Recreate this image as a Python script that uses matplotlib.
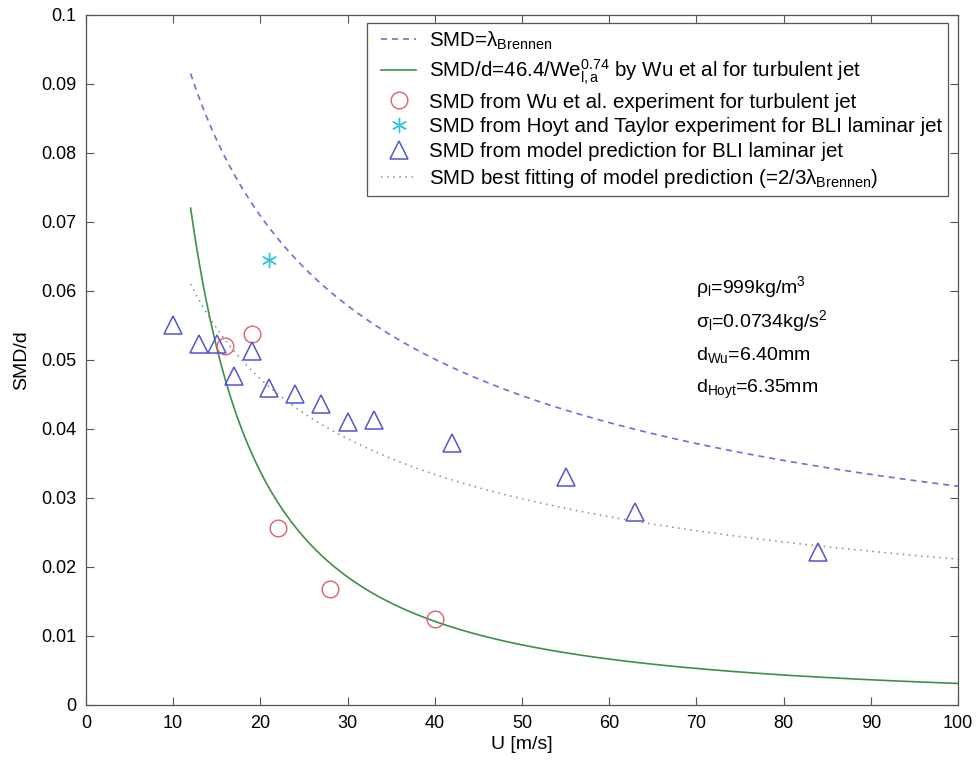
import numpy as np
import matplotlib
matplotlib.use("Agg")
import matplotlib.pyplot as plt
from matplotlib.lines import Line2D
from matplotlib.legend_handler import HandlerLine2D

plt.rcParams["font.family"] = ["Liberation Sans", "DejaVu Sans"]
plt.rcParams["mathtext.fontset"] = "custom"
plt.rcParams["mathtext.rm"] = "Liberation Sans"
plt.rcParams["mathtext.it"] = "Liberation Sans"
plt.rcParams["mathtext.sf"] = "Liberation Sans"

# Model prediction for BLI laminar jet (triangles)
u_model = [10, 13, 15, 17, 19, 21, 24, 27, 30, 33, 42, 55, 63, 84]
smd_model = [0.0550, 0.0523, 0.0523, 0.0477, 0.0513, 0.0460, 0.0450,
             0.0436, 0.0410, 0.0413, 0.0380, 0.0330, 0.0280, 0.0221]

# Wu et al. experiment, turbulent jet (circles)
u_wu = [16, 19, 22, 28, 40]
smd_wu = [0.0520, 0.0538, 0.0257, 0.0168, 0.0124]

# Hoyt and Taylor experiment, BLI laminar jet (star)
u_hoyt = [21]
smd_hoyt = [0.0645]

# Curve coefficients: SMD/d = C * U**(-n)
brennen_coef = 0.317
brennen_exp = 0.5
wu_coef = 2.848
wu_exp = 2 * 0.74
fit_ratio = 2.0 / 3.0

u_curve = np.linspace(12, 100, 400)
smd_brennen = brennen_coef * u_curve ** (-brennen_exp)
smd_wu_fit = wu_coef * u_curve ** (-wu_exp)
smd_best = fit_ratio * smd_brennen

fig = plt.figure(figsize=(9.77, 7.6), dpi=100)
ax = fig.add_axes([0.088, 0.0724, 0.8925, 0.9079])

fs = 13
ax.plot(u_curve, smd_brennen, color="#6d6ddc", lw=1.2, ls=(0, (3.6, 3)),
        label=r"SMD=$\lambda_{\rm Brennen}$")
ax.plot(u_curve, smd_wu_fit, color="#3f8f4a", lw=1.2,
        label=r"SMD/d=46.4/We$_{\rm l,a}^{0.74}$ by Wu et al for turbulent jet")
ax.plot(u_wu, smd_wu, ls="none", marker="o", ms=12, mfc="none",
        mec="#e0606e", mew=1.0,
        label="SMD from Wu et al. experiment for turbulent jet")
ax.plot(u_hoyt, smd_hoyt, ls="none", marker=(6, 2, 0), ms=11,
        mec="#35c4d6", mew=1.0,
        label="SMD from Hoyt and Taylor experiment for BLI laminar jet")
ax.plot(u_model, smd_model, ls="none", marker="^", ms=13, mfc="none",
        mec="#5454d2", mew=1.1,
        label="SMD from model prediction for BLI laminar jet")
ax.plot(u_curve, smd_best, color="#8a8a8a", lw=1.1, ls=(0, (1, 3)),
        label=r"SMD best fitting of model prediction (=2/3$\lambda_{\rm Brennen}$)")

ax.set_xlim(0, 100)
ax.set_ylim(0, 0.1)
ax.set_xticks(np.arange(0, 101, 10))
ax.set_yticks(np.arange(0, 0.1001, 0.01))
ax.set_yticklabels(["0"] + [f"{v:.2f}" for v in np.arange(0.01, 0.0951, 0.01)] + ["0.1"])
ax.tick_params(direction="in", top=True, right=True, labelsize=fs,
               length=6, width=0.8, color="#555555", pad=7)
for sp in ax.spines.values():
    sp.set_color("#555555")
    sp.set_linewidth(0.9)

ax.set_xlabel("U [m/s]", fontsize=14, labelpad=3)
ax.set_ylabel("SMD/d", fontsize=14, labelpad=8)

leg_fs = 14.8
leg = ax.legend(loc="upper right", bbox_to_anchor=(0.9885, 0.988),
                borderaxespad=0, fontsize=leg_fs, handlelength=2.1,
                handletextpad=0.6, labelspacing=0.28, borderpad=0.3,
                fancybox=False, framealpha=1,
                handler_map={Line2D: HandlerLine2D(xpad=0.4)})
leg.get_frame().set_edgecolor("#555555")
leg.get_frame().set_linewidth(0.9)

ann = [r"$\rho_{\rm l}$=999kg/m$^3$",
       r"$\sigma_{\rm l}$=0.0734kg/s$^2$",
       r"d$_{\rm Wu}$=6.40mm",
       r"d$_{\rm Hoyt}$=6.35mm"]
for i, t in enumerate(ann):
    ax.text(70, 0.0605 - i * 0.0049, t, fontsize=14, va="center", ha="left")

fig.savefig("out.png", dpi=100)
